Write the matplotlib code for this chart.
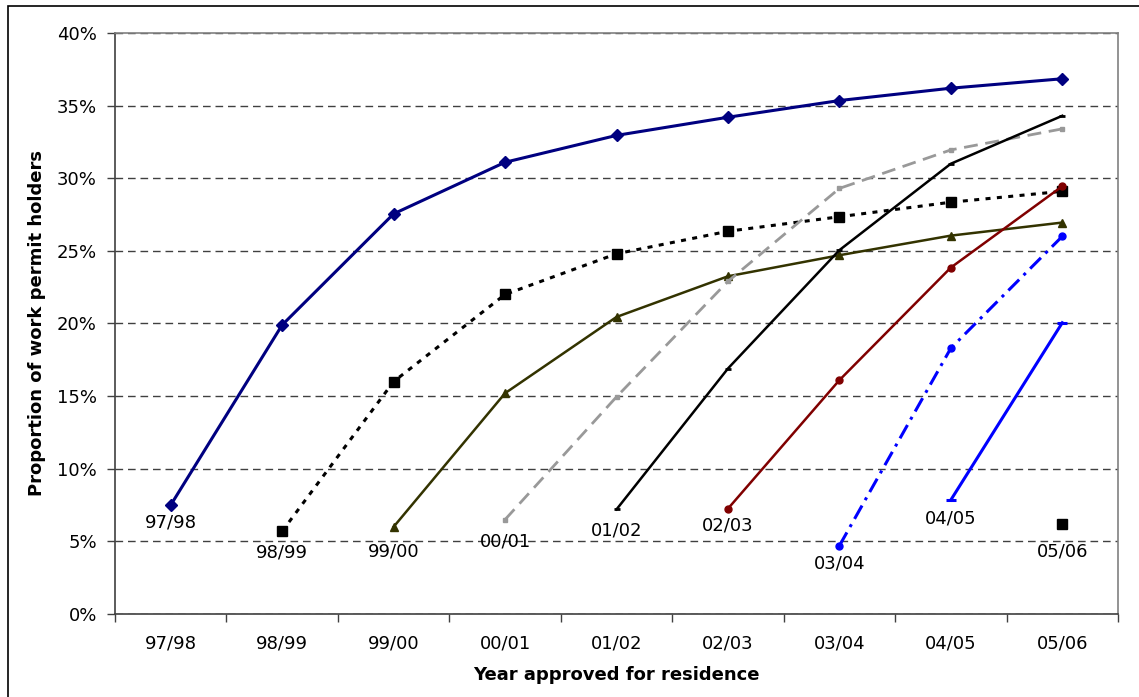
import matplotlib
matplotlib.use("Agg")
import matplotlib.pyplot as plt
from matplotlib.patches import Rectangle
from matplotlib.ticker import FuncFormatter, MultipleLocator

plt.rcParams["font.family"] = ["DejaVu Sans"]
plt.rcParams["lines.scale_dashes"] = False

# Year approved for residence (x categories)
years = ["97/98", "98/99", "99/00", "00/01", "01/02", "02/03", "03/04", "04/05", "05/06"]

# Cumulative proportion (%) of each approval cohort that held work permits
cohort_9798 = [7.5, 19.9, 27.55, 31.1, 32.95, 34.2, 35.35, 36.2, 36.85]
cohort_9899 = [5.7, 16.0, 22.0, 24.8, 26.35, 27.35, 28.35, 29.1]
cohort_9900 = [6.0, 15.2, 20.45, 23.25, 24.7, 26.05, 26.95]
cohort_0001 = [6.5, 14.95, 22.9, 29.3, 31.95, 33.4]
cohort_0102 = [7.2, 16.9, 25.05, 31.0, 34.3]
cohort_0203 = [7.25, 16.1, 23.85, 29.45]
cohort_0304 = [4.7, 18.3, 26.0]
cohort_0405 = [7.85, 20.05]
cohort_0506 = [6.2]

cohorts = [
    ("97/98", cohort_9798),
    ("98/99", cohort_9899),
    ("99/00", cohort_9900),
    ("00/01", cohort_0001),
    ("01/02", cohort_0102),
    ("02/03", cohort_0203),
    ("03/04", cohort_0304),
    ("04/05", cohort_0405),
    ("05/06", cohort_0506),
]

styles = {
    "97/98": dict(color="#000080", lw=2.2, ls="-", marker="D", ms=6, mfc="#000080", mec="#000080"),
    "98/99": dict(color="black", lw=2.2, ls=(0, (3.6, 4.6)), marker="s", ms=6.5, mfc="black", mec="black"),
    "99/00": dict(color="#333300", lw=1.8, ls="-", marker="^", ms=5.5, mfc="#333300", mec="#333300"),
    "00/01": dict(color="#999999", lw=2.0, ls=(0, (10, 5.5)), marker="s", ms=3.5, mfc="#999999", mec="#999999"),
    "01/02": dict(color="black", lw=1.8, ls="-", marker="_", ms=5, mew=2, mec="black"),
    "02/03": dict(color="#800000", lw=1.8, ls="-", marker="o", ms=5, mfc="#800000", mec="#800000"),
    "03/04": dict(color="#0000FF", lw=2.2, ls=(0, (11, 4.5, 2.2, 4.5)), marker="o", ms=5, mfc="#0000FF", mec="#0000FF"),
    "04/05": dict(color="#0000FF", lw=2.2, ls="-", marker="_", ms=7, mew=2.2, mec="#0000FF"),
    "05/06": dict(color="black", lw=0, ls="none", marker="s", ms=6.5, mfc="black", mec="black"),
}

# pixel offset of each cohort label below its first point
label_drop = {"97/98": 17, "98/99": 21, "99/00": 25, "00/01": 22, "01/02": 21,
              "02/03": 17, "03/04": 18, "04/05": 19, "05/06": 28}

W, H = 1139, 697
fig = plt.figure(figsize=(W / 100, H / 100), dpi=100)
fig.patch.set_facecolor("white")

# outer chart frame
fig.add_artist(Rectangle((8 / W, -0.1), 1.2, 1.1 - 6 / H, transform=fig.transFigure,
                         fill=False, edgecolor="black", lw=1.2, zorder=0))

left, top, right, bottom = 115, 33, 1118, 614
ax = fig.add_axes([left / W, 1 - bottom / H, (right - left) / W, (bottom - top) / H])

fs = 13
for i, (name, vals) in enumerate(cohorts):
    xs = list(range(i, i + len(vals)))
    ax.plot(xs, vals, zorder=3, clip_on=False, **styles[name])
    ax.annotate(name, (xs[0], vals[0]), xytext=(0, -label_drop[name]),
                textcoords="offset pixels", ha="center", va="center",
                fontsize=fs, color="black", zorder=4)

ax.set_xlim(-0.5, len(years) - 0.5)
ax.set_ylim(0, 40)
ax.set_xticks(range(len(years)))
ax.set_xticklabels(years)
ax.set_xticks([i + 0.5 for i in range(-1, len(years))], minor=True)
ax.tick_params(axis="x", which="major", length=0, pad=15, labelsize=fs)
ax.tick_params(axis="x", which="minor", length=6, width=1, color="#404040", direction="out")
ax.yaxis.set_major_locator(MultipleLocator(5))
ax.yaxis.set_major_formatter(FuncFormatter(lambda v, p: f"{v:.0f}%"))
ax.tick_params(axis="y", length=6, width=1, color="#404040", pad=7, labelsize=fs)

ax.yaxis.grid(True, color="#404040", lw=1, ls=(0, (5.5, 3.5)))
ax.set_axisbelow(True)

for s in ("top", "right"):
    ax.spines[s].set_color("#808080")
    ax.spines[s].set_linewidth(1.2)
for s in ("left", "bottom"):
    ax.spines[s].set_color("#404040")
    ax.spines[s].set_linewidth(1.2)

fig.text(616 / W, 1 - 675 / H, "Year approved for residence", ha="center", va="center",
         fontsize=fs, fontweight="bold")
fig.text(37 / W, 1 - 323 / H, "Proportion of work permit holders", ha="center", va="center",
         rotation=90, fontsize=fs, fontweight="bold")

fig.savefig("out.png", dpi=100, facecolor="white")
